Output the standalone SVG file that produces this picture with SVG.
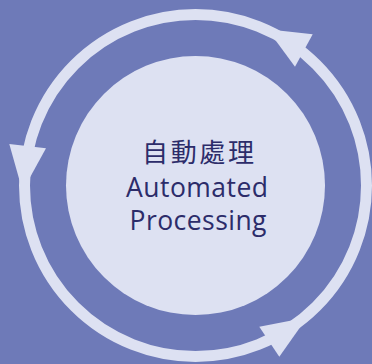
<svg xmlns="http://www.w3.org/2000/svg" width="372" height="364" viewBox="0 0 372 364">
<style>
.bg{fill:#6e7ab8}
.light{fill:#dde1f2}
.ring{fill:none;stroke:#dde1f2;stroke-width:11}
.cjk{font-family:"Noto Sans CJK TC","Noto Sans CJK SC",sans-serif;font-size:26px;fill:#2c2c6a;text-anchor:middle}
.lat{font-family:"Open Sans","Noto Sans",sans-serif;font-size:26.5px;fill:#2c2c6a;text-anchor:middle}
</style>
<rect class="bg" x="0" y="0" width="372" height="364"/>
<g id="connectors">
  <circle class="ring" cx="195.5" cy="185.5" r="171"/>
  <polygon class="light" points="267.4,29.3 312.7,34.3 295,66.7"/>
  <polygon class="light" points="9.3,144 46,148.3 22.5,191"/>
  <polygon class="light" points="259.3,326.7 279.3,356.7 307,317.5"/>
</g>
<g id="node-automated-processing">
  <circle class="light" cx="195.5" cy="185.5" r="129.5"/>
  <text class="cjk" x="198" y="162" textLength="112" lengthAdjust="spacing">自動處理</text>
  <text class="lat" x="197" y="197" textLength="142" lengthAdjust="spacing">Automated</text>
  <text class="lat" x="198" y="230" textLength="137" lengthAdjust="spacing">Processing</text>
</g>
</svg>
